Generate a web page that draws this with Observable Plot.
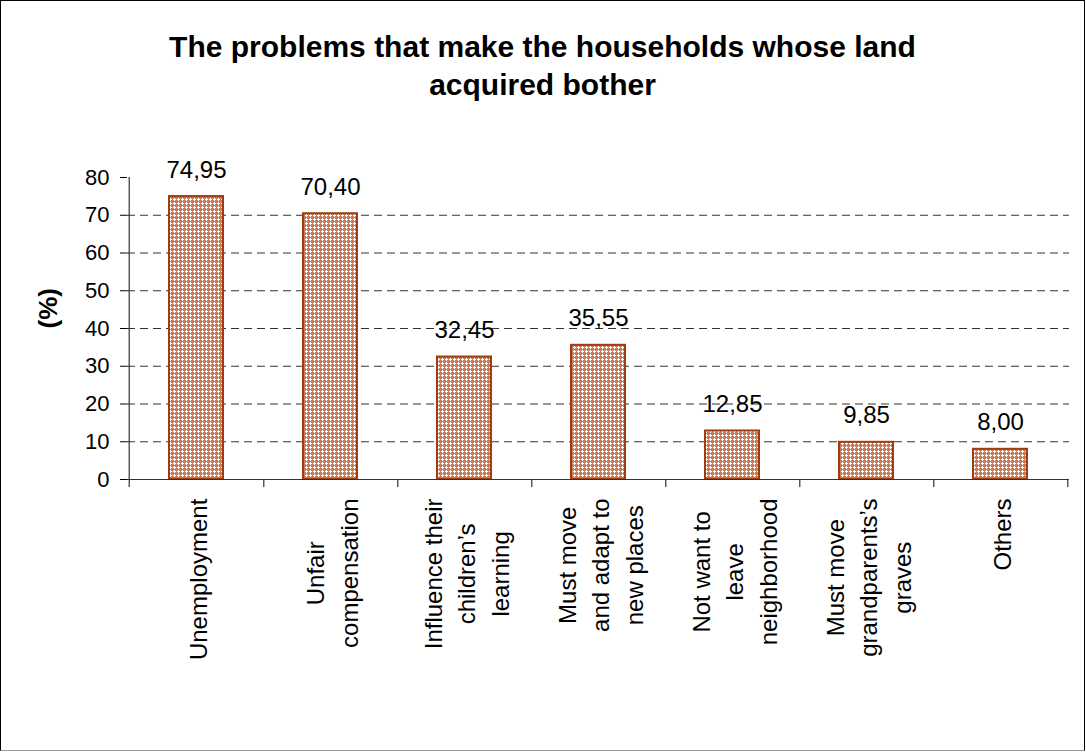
<!DOCTYPE html>
<html>
<head>
<meta charset="utf-8">
<script src="https://cdn.jsdelivr.net/npm/d3@7"></script>
<script src="https://cdn.jsdelivr.net/npm/@observablehq/plot@0.6"></script>
<style>
  html, body { margin: 0; padding: 0; background: #fff; }
  #frame {
    position: relative; width: 1083px; height: 749px;
    border: 1px solid #000; border-bottom-color: #999;
    font-family: "Liberation Sans", Arial, sans-serif; background: #fff;
  }
  #title {
    position: absolute; left: 0; top: 27px; width: 100%;
    text-align: center; font-weight: bold; font-size: 30px; line-height: 38px; color: #000;
  }
  #chart { position: absolute; left: 0; top: 109px; }
</style>
</head>
<body>
<div id="frame">
  <div id="title">The problems that make the households whose land<br>acquired bother</div>
  <div id="chart"></div>
</div>
<script>
const categories = [
  "Unemployment",
  "Unfair\ncompensation",
  "Influence their\nchildren’s\nlearning",
  "Must move\nand adapt to\nnew places",
  "Not want to\nleave\nneighborhood",
  "Must move\ngrandparents’s\ngraves",
  "Others"
];
const values = [74.95, 70.40, 32.45, 35.55, 12.85, 9.85, 8.00];
const yTicks = [0, 10, 20, 30, 40, 50, 60, 70, 80];
const gridValues = [10, 20, 30, 40, 50, 60, 70];

const data = categories.map((c, i) => ({cat: c, value: values[i], label: values[i].toFixed(2).replace(".", ",")}));

const W = 1083, H = 600, ML = 126, MR = 15, MT = 67, MB = 231;
const step = (W - ML - MR) / categories.length;
const tickDepth = -8 / ((H - MT - MB) / 80);

const plot = Plot.plot({
  width: W, height: H,
  marginLeft: ML, marginRight: MR, marginTop: MT, marginBottom: MB,
  style: {fontFamily: "'Liberation Sans', Arial, sans-serif", fontSize: "22px", color: "#000", background: "transparent"},
  x: {type: "band", domain: categories, paddingInner: 0.6, paddingOuter: 0.3, axis: null},
  y: {domain: [0, 80], ticks: yTicks, tickSize: 7, tickPadding: 11, label: null},
  marks: [
    Plot.ruleY(gridValues, {stroke: "#333", strokeDasharray: "8,5", strokeWidth: 1}),
    Plot.barY(data, {x: "cat", y: "value", fill: "url(#hatch)", stroke: "#a13c0c", strokeWidth: 2}),
    Plot.ruleY([0], {stroke: "#333", strokeWidth: 1.2}),
    Plot.ruleX([categories[0]], {dx: -step / 2, y1: tickDepth, y2: 80, stroke: "#333", strokeWidth: 1.2}),
    Plot.ruleX(categories, {x: d => d, dx: step / 2, y1: tickDepth, y2: 0, stroke: "#333", strokeWidth: 1.2}),
    Plot.text(data, {x: "cat", y: "value", text: "label", dy: -19, lineAnchor: "bottom", fontSize: 24, fill: "#000"}),
    Plot.text(categories, {x: d => d, text: d => d, frameAnchor: "bottom", dy: 19, rotate: -90,
      textAnchor: "middle", lineAnchor: "middle", lineHeight: 1.4, fontSize: 24, fill: "#000", ariaDescription: "cat-labels"}),
    Plot.text(["(%)"], {text: d => d, frameAnchor: "left", dx: -79, rotate: -90, fontSize: 26, fontWeight: "bold", fill: "#000"})
  ]
});

// pattern fill for bars
const ns = "http://www.w3.org/2000/svg";
const defs = document.createElementNS(ns, "defs");
defs.innerHTML = `<pattern id="hatch" width="4" height="4" patternUnits="userSpaceOnUse">
  <rect width="4" height="4" fill="#cc7a58"/>
  <rect x="1" y="0" width="1" height="3" fill="#ffffff"/>
  <rect x="0" y="1" width="3" height="1" fill="#ffffff"/>
</pattern>`;
plot.insertBefore(defs, plot.firstChild);

document.getElementById("chart").appendChild(plot);

// top-align multi-line category labels (lines centred on each other, block starting at the axis)
const g = plot.querySelector('g[aria-description="cat-labels"]');
if (g) {
  g.querySelectorAll("text").forEach(t => {
    const L = t.getBBox().width;
    const tr = t.getAttribute("transform");
    const m = /translate\(([-\d.e]+),([-\d.e]+)\)(.*)/.exec(tr);
    if (m) t.setAttribute("transform", `translate(${m[1]},${+m[2] + L / 2})${m[3]}`);
  });
}
</script>
</body>
</html>
